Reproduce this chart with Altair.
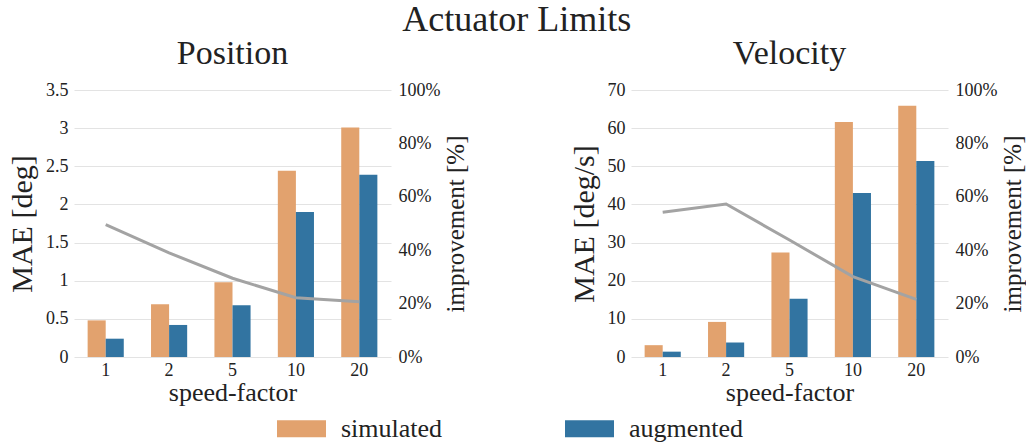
import altair as alt
import pandas as pd

# speed-factor categories and the two error series
speed_factor = ["1", "2", "5", "10", "20"]
series = ["simulated", "augmented"]

# Position MAE [deg] and improvement [%]
position_simulated = [0.48, 0.69, 0.98, 2.44, 3.01]
position_augmented = [0.24, 0.42, 0.68, 1.90, 2.39]
position_improvement = [49.6, 39.0, 29.5, 22.2, 20.7]

# Velocity MAE [deg/s] and improvement [%]
velocity_simulated = [3.1, 9.2, 27.4, 61.6, 65.9]
velocity_augmented = [1.4, 3.8, 15.3, 43.0, 51.4]
velocity_improvement = [54.2, 57.3, 43.8, 30.1, 21.6]

position_ticks = [0, 0.5, 1, 1.5, 2, 2.5, 3, 3.5]
velocity_ticks = [0, 10, 20, 30, 40, 50, 60, 70]
improvement_ticks = [0, 20, 40, 60, 80, 100]

bar_colors = ["#E2A26E", "#3274A1"]
line_color = "#A3A3A3"
FONT = "Liberation Serif"
INK = "#222222"

text_style = dict(labelFont=FONT, titleFont=FONT, labelColor=INK,
                  titleColor=INK, titleFontWeight="normal",
                  labelFontWeight="normal")


def panel(title, ytitle, sim, aug, imp, ymax, yticks):
    bars = pd.DataFrame({
        "speed": speed_factor * 2,
        "series": [series[0]] * len(sim) + [series[1]] * len(aug),
        "mae": sim + aug,
    })
    gain = pd.DataFrame({"speed": speed_factor, "improvement": imp})

    x = alt.X(
        "speed:N", sort=speed_factor, title="speed-factor",
        scale=alt.Scale(paddingInner=0.43, paddingOuter=0.215),
        axis=alt.Axis(labelAngle=0, labelFontSize=18, titleFontSize=26,
                      labelPadding=4, titlePadding=0, grid=False,
                      **text_style),
    )

    bar_layer = alt.Chart(bars).mark_bar().encode(
        x=x,
        xOffset=alt.XOffset("series:N", sort=series),
        y=alt.Y(
            "mae:Q", title=ytitle,
            scale=alt.Scale(domain=[0, ymax], nice=False, zero=True),
            axis=alt.Axis(values=yticks, format="~r", labelFontSize=18,
                          titleFontSize=30, labelPadding=6, titlePadding=8,
                          grid=True, gridColor="#E3E3E3", gridWidth=1.2,
                          **text_style),
        ),
        color=alt.Color(
            "series:N", sort=series,
            scale=alt.Scale(domain=series, range=bar_colors),
            legend=alt.Legend(title=None),
        ),
    )

    line_layer = alt.Chart(gain).mark_line(color=line_color, strokeWidth=3).encode(
        x=x,
        y=alt.Y(
            "improvement:Q", title="improvement [%]",
            scale=alt.Scale(domain=[0, 100], nice=False),
            axis=alt.Axis(orient="right", values=improvement_ticks,
                          labelExpr="datum.value + '%'", labelFontSize=18,
                          titleFontSize=25, labelPadding=7, titlePadding=4,
                          titleAngle=270, titleBaseline="top", grid=False,
                          **text_style),
        ),
    )

    return (
        alt.layer(bar_layer, line_layer)
        .resolve_scale(y="independent")
        .properties(width=317, height=267,
                    title=alt.Title(title, fontSize=34, font=FONT,
                                    fontWeight="normal", offset=10, color=INK))
    )


left = panel("Position", "MAE [deg]", position_simulated, position_augmented,
             position_improvement, 3.5, position_ticks)
right = panel("Velocity", "MAE [deg/s]", velocity_simulated, velocity_augmented,
              velocity_improvement, 70, velocity_ticks)

chart = (
    alt.hconcat(left, right, spacing=100)
    .properties(
        title=alt.Title("Actuator Limits", fontSize=36, font=FONT,
                        fontWeight="normal", anchor="middle", color=INK, offset=-2),
        padding={"left": 7, "top": 2, "right": 0, "bottom": 0},
        background="white",
    )
    .configure_view(stroke=None)
    .configure_axis(domain=False, ticks=False)
    .configure_legend(
        orient="none", legendX=203, legendY=314, direction="horizontal",
        symbolType="M-1,-0.35H1V0.35H-1Z", symbolSize=2401,
        symbolStrokeWidth=0, labelFont=FONT, labelFontSize=26,
        labelColor=INK, labelOffset=15, columnPadding=122,
    )
)

chart.save("out.html", embed_options={"renderer": "svg", "actions": False})
